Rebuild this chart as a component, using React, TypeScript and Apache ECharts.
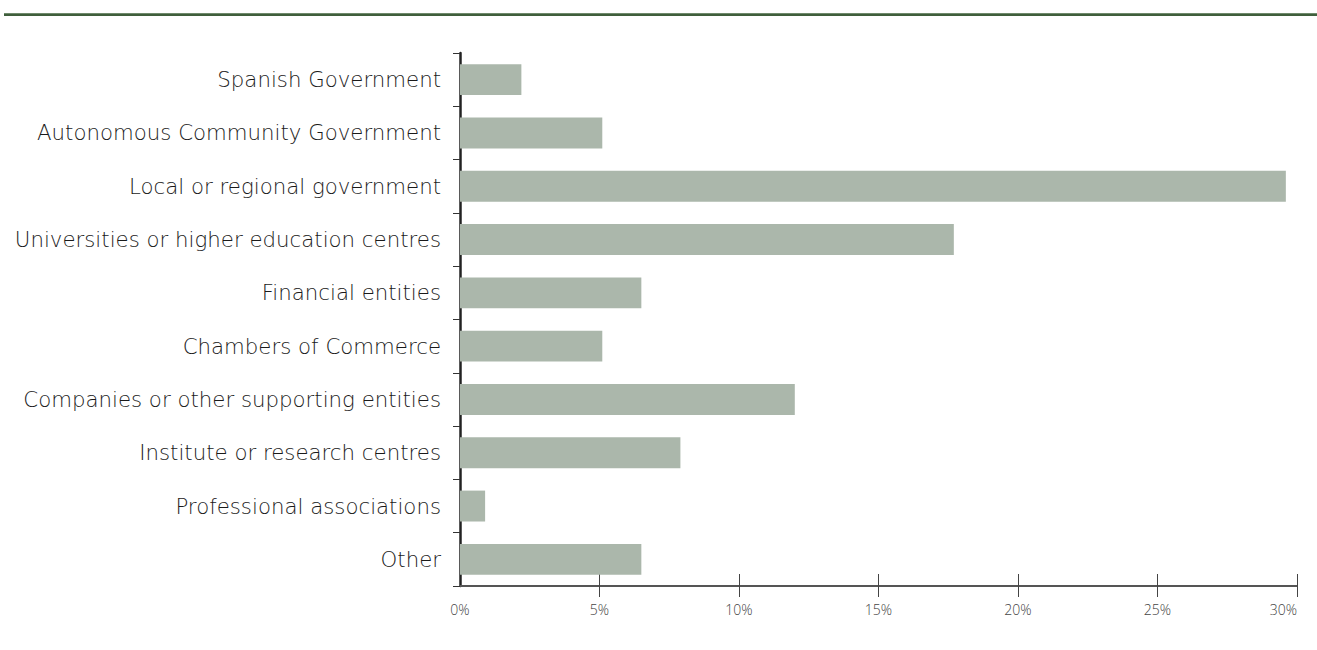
import React, { useEffect, useRef } from "react";
import * as echarts from "echarts";

const categories = [
  "Spanish Government",
  "Autonomous Community Government",
  "Local or regional government",
  "Universities or higher education centres",
  "Financial entities",
  "Chambers of Commerce",
  "Companies or other supporting entities",
  "Institute or research centres",
  "Professional associations",
  "Other",
];
const values = [2.2, 5.1, 29.6, 17.7, 6.5, 5.1, 12.0, 7.9, 0.9, 6.5];
const tickValues = [5, 10, 15, 20, 25, 30];
const labelValues = [0, 5, 10, 15, 20, 25, 30];

export default function App() {
  const ref = useRef<HTMLDivElement>(null);
  useEffect(() => {
    const chart = echarts.init(ref.current!, null, { renderer: "svg" });
    const font = "'DejaVu Sans', sans-serif";
    chart.setOption({
      animation: false,
      backgroundColor: "#ffffff",
      textStyle: { fontFamily: font },
      graphic: [
        {
          type: "rect",
          shape: { x: 4, y: 13, width: 1313, height: 3 },
          style: { fill: "#3f5e3c" },
        },
        {
          type: "rect",
          shape: { x: 4, y: 13, width: 1313, height: 1 },
          style: { fill: "#6f8a6c" },
        },
      ],
      grid: { left: 460, right: 20, top: 53, bottom: 64 },
      xAxis: [
        {
          type: "value",
          min: 0,
          max: 30,
          interval: 5,
          position: "bottom",
          splitLine: { show: false },
          axisLine: { show: true, lineStyle: { color: "#555", width: 2 } },
          axisTick: {
            show: true,
            inside: false,
            length: 11,
            customValues: tickValues,
            lineStyle: { color: "#444", width: 1 },
          },
          axisLabel: {
            customValues: labelValues,
            formatter: "{value}%",
            color: "#444",
            fontSize: 14,
            fontWeight: 300,
            margin: 16,
            alignMaxLabel: "right",
            fontFamily: "'Open Sans', sans-serif",
          },
        },
        {
          type: "value",
          min: 0,
          max: 30,
          interval: 5,
          position: "bottom",
          splitLine: { show: false },
          axisLine: { show: false },
          axisTick: {
            show: true,
            inside: true,
            length: 12,
            customValues: tickValues,
            lineStyle: { color: "#444", width: 1 },
          },
          axisLabel: { show: false },
        },
      ],
      yAxis: {
        type: "category",
        data: categories,
        inverse: true,
        axisLine: { show: true, lineStyle: { color: "#222", width: 2.5 } },
        axisTick: { show: true, length: 7, lineStyle: { color: "#333", width: 1 } },
        axisLabel: {
          color: "#1a1a1a",
          fontSize: 21.3,
          fontWeight: 300,
          margin: 19,
          fontFamily: font,
        },
      },
      series: [
        {
          type: "bar",
          data: values,
          xAxisIndex: 0,
          barCategoryGap: "42%",
          itemStyle: { color: "#abb7ab" },
          z: 1,
        },
      ],
    });
    return () => chart.dispose();
  }, []);
  return (
    <div
      ref={ref}
      style={{ position: "absolute", left: 0, top: 0, width: 1317, height: 650 }}
    />
  );
}
